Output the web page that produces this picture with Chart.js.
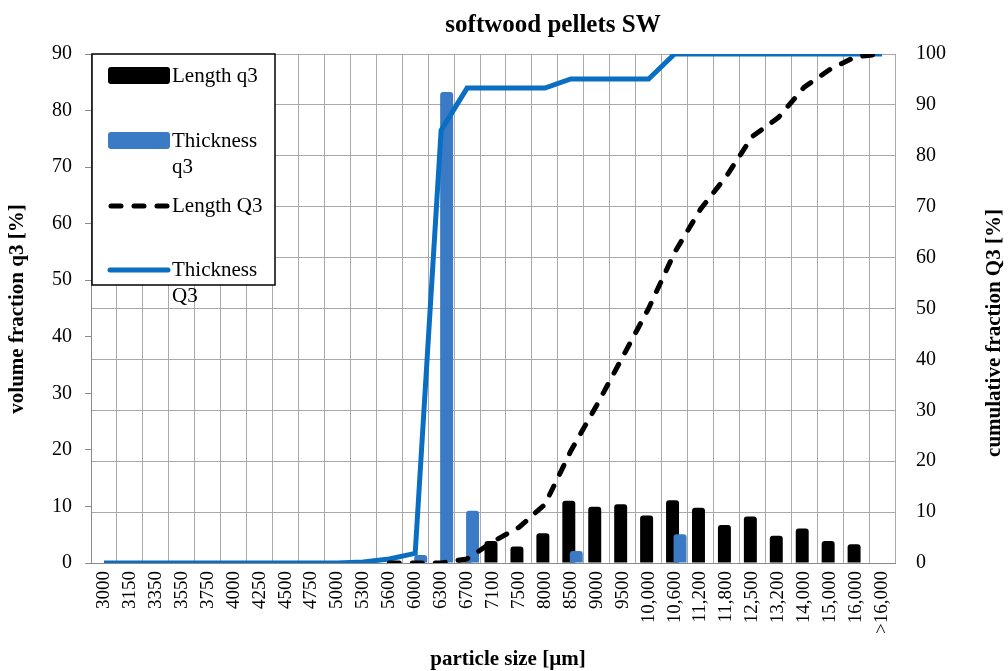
<!DOCTYPE html>
<html>
<head>
<meta charset="utf-8">
<script src="https://cdn.jsdelivr.net/npm/chart.js@4.4.1/dist/chart.umd.min.js"></script>
<style>
html,body{margin:0;padding:0;background:#fff;}
#wrap{width:1008px;height:671px;position:relative;}
</style>
</head>
<body>
<div id="wrap"><canvas id="c" width="1008" height="671"></canvas></div>
<script>
const categories = ['3000','3150','3350','3550','3750','4000','4250','4500','4750','5000','5300','5600','6000','6300','6700','7100','7500','8000','8500','9000','9500','10,000','10,600','11,200','11,800','12,500','13,200','14,000','15,000','16,000','>16,000'];

const lengthQ3bars =   [0,0,0,0,0,0,0,0,0,0,0,0,0,0,0.5,3.9,2.9,5.25,11.0,9.95,10.4,8.4,11.1,9.75,6.7,8.2,4.8,6.1,3.9,3.3,0];
const thicknessQ3bars = [0,0.2,0,0,0.2,0,0,0,0,0,0,0,1.4,83.3,9.25,0,0,0,2.1,0,0,0,5.1,0,0,0,0,0,0,0,0];
const lengthQ3cum =    [null,null,null,null,null,null,null,null,null,null,null,0,0,0,0.8,4.2,7,11.5,22,31,40.5,50,61,69.5,76,83.8,87.5,93.5,97,99.5,100];
const thicknessQ3cum = [0,0,0,0,0,0,0,0,0,0,0.2,0.8,1.9,85,93.3,93.3,93.3,93.3,95.1,95.1,95.1,95.1,100,100,100,100,100,100,100,100,100];

const leftTicks = {min:0, max:90, step:10};
const rightTicks = {min:0, max:100, step:10};

const TITLE = 'softwood pellets SW';
const X_TITLE = 'particle size [µm]';
const Y_TITLE = 'volume fraction q3 [%]';
const Y2_TITLE = 'cumulative fraction Q3 [%]';

const BLACK = '#000000';
const BAR_BLUE = '#3b7bc6';
const LINE_BLUE = '#0a6fc2';
const GRID = '#a9a9a9';
const SERIF = '"Liberation Serif", "Times New Roman", serif';

// horizontal overlap shift of the two bar series (Excel-style partial overlap)
const barShift = { 0: -2, 1: 5.5 };

const shiftPlugin = {
  id: 'barShift',
  beforeDatasetDraw(chart, args) {
    const s = barShift[args.index];
    if (s !== undefined) { chart.ctx.save(); chart.ctx.translate(s, 0); }
  },
  afterDatasetDraw(chart, args) {
    if (barShift[args.index] !== undefined) chart.ctx.restore();
  }
};

const textPlugin = {
  id: 'texts',
  afterDraw(chart) {
    const ctx = chart.ctx;
    ctx.save();
    ctx.fillStyle = '#000';
    ctx.textAlign = 'center';
    ctx.textBaseline = 'middle';
    ctx.font = 'bold 25px ' + SERIF;
    ctx.fillText(TITLE, 553, 26);
    ctx.font = 'bold 21px ' + SERIF;
    ctx.fillText(X_TITLE, 508, 660);
    ctx.save();
    ctx.translate(18, 309);
    ctx.rotate(-Math.PI / 2);
    ctx.fillText(Y_TITLE, 0, 0);
    ctx.restore();
    ctx.save();
    ctx.translate(995, 333);
    ctx.rotate(-Math.PI / 2);
    ctx.fillText(Y2_TITLE, 0, 0);
    ctx.restore();

    // legend box
    const bx = 92, by = 54, bw = 183, bh = 231;
    ctx.fillStyle = '#fff';
    ctx.fillRect(bx, by, bw, bh);
    ctx.strokeStyle = '#000';
    ctx.lineWidth = 1.5;
    ctx.strokeRect(bx, by, bw, bh);

    const ds = chart.data.datasets;
    ctx.font = '21px ' + SERIF;
    ctx.textAlign = 'left';
    ctx.textBaseline = 'middle';
    ctx.fillStyle = ds[0].backgroundColor;
    roundRect(ctx, 108, 67, 62, 17, 3); ctx.fill();
    ctx.fillStyle = '#000';
    ctx.fillText(ds[0].label, 172, 76);
    ctx.fillStyle = ds[1].backgroundColor;
    roundRect(ctx, 108, 132, 62, 17, 3); ctx.fill();
    ctx.fillStyle = '#000';
    ctx.fillText('Thickness', 172, 141);
    ctx.fillText('q3', 172, 167);
    ctx.strokeStyle = ds[2].borderColor;
    ctx.lineWidth = 5;
    ctx.lineCap = 'round';
    ctx.setLineDash(ds[2].borderDash);
    ctx.beginPath(); ctx.moveTo(111, 206); ctx.lineTo(168, 206); ctx.stroke();
    ctx.setLineDash([]);
    ctx.fillStyle = '#000';
    ctx.fillText(ds[2].label, 172, 206);
    ctx.strokeStyle = ds[3].borderColor;
    ctx.lineCap = 'round';
    ctx.beginPath(); ctx.moveTo(110, 270); ctx.lineTo(168, 270); ctx.stroke();
    ctx.fillText('Thickness', 172, 270);
    ctx.fillText('Q3', 172, 296);
    ctx.restore();
  }
};

function roundRect(ctx, x, y, w, h, r) {
  ctx.beginPath();
  ctx.moveTo(x + r, y);
  ctx.lineTo(x + w - r, y);
  ctx.quadraticCurveTo(x + w, y, x + w, y + r);
  ctx.lineTo(x + w, y + h - r);
  ctx.quadraticCurveTo(x + w, y + h, x + w - r, y + h);
  ctx.lineTo(x + r, y + h);
  ctx.quadraticCurveTo(x, y + h, x, y + h - r);
  ctx.lineTo(x, y + r);
  ctx.quadraticCurveTo(x, y, x + r, y);
  ctx.closePath();
}

new Chart(document.getElementById('c'), {
  type: 'bar',
  data: {
    labels: categories,
    datasets: [
      { type:'bar', label:'Length q3', data:lengthQ3bars, backgroundColor:BLACK, yAxisID:'y', order:3, grouped:false,
        categoryPercentage:0.5, barPercentage:1.0, borderRadius:3, borderSkipped:'bottom' },
      { type:'bar', label:'Thickness q3', data:thicknessQ3bars, backgroundColor:BAR_BLUE, yAxisID:'y', order:2, grouped:false,
        categoryPercentage:0.5, barPercentage:1.0, borderRadius:3, borderSkipped:'bottom' },
      { type:'line', label:'Length Q3', data:lengthQ3cum, borderColor:BLACK, backgroundColor:BLACK, yAxisID:'y2', order:0,
        borderWidth:5, borderDash:[10,13], borderCapStyle:'round', pointRadius:0, tension:0, fill:false, spanGaps:false },
      { type:'line', label:'Thickness Q3', data:thicknessQ3cum, borderColor:LINE_BLUE, backgroundColor:LINE_BLUE, yAxisID:'y2', order:1,
        borderWidth:5, pointRadius:0, tension:0, fill:false, borderJoinStyle:'miter' }
    ]
  },
  options: {
    responsive:false,
    animation:false,
    devicePixelRatio:1,
    layout:{ padding:{ top:54, left:0, right:0, bottom:0 } },
    plugins:{ legend:{display:false}, title:{display:false}, tooltip:{enabled:false} },
    scales:{
      x:{
        type:'category',
        offset:true,
        grid:{ offset:true, color:GRID, lineWidth:1, drawTicks:false },
        border:{ color:'#8a8a8a', width:1 },
        ticks:{ color:'#000', font:{ family:SERIF, size:19 }, minRotation:90, maxRotation:90, padding:8, autoSkip:false },
        afterFit(s){ s.height = 108; }
      },
      y:{
        position:'left',
        min:leftTicks.min, max:leftTicks.max,
        ticks:{ stepSize:leftTicks.step, color:'#000', font:{ family:SERIF, size:20 }, padding:13 },
        grid:{ drawOnChartArea:false, drawTicks:true, tickLength:6, color:'#8a8a8a' },
        border:{ color:'#8a8a8a', width:1 },
        afterFit(s){ s.width = 91; }
      },
      y2:{
        position:'right',
        min:rightTicks.min, max:rightTicks.max,
        ticks:{ stepSize:rightTicks.step, color:'#000', font:{ family:SERIF, size:20 }, padding:21 },
        grid:{ drawOnChartArea:true, drawTicks:false, color:GRID, lineWidth:1 },
        border:{ display:false },
        afterFit(s){ s.width = 113; }
      }
    }
  },
  plugins:[shiftPlugin, textPlugin]
});
</script>
</body>
</html>
